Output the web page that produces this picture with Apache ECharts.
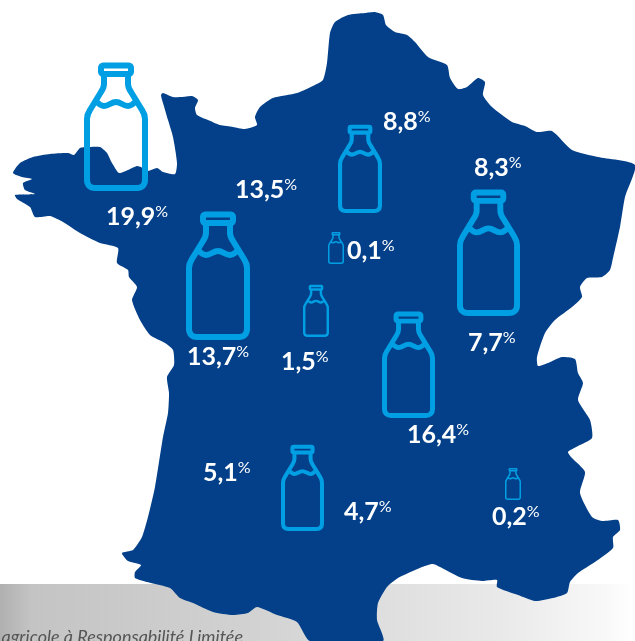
<!DOCTYPE html>
<html>
<head>
<meta charset="utf-8">
<title>Collecte de lait par région</title>
<script src="https://cdn.jsdelivr.net/npm/echarts@6/dist/echarts.min.js"></script>
<style>
html,body{margin:0;padding:0;background:#fff;}
#main{width:635px;height:641px;}
</style>
</head>
<body>
<div id="main"></div>
<script>
// valeurs affichees sur la carte
var shareValues = ['19,9','13,5','8,8','8,3','0,1','13,7','1,5','7,7','16,4','5,1','4,7','0,2'];
// position des valeurs dans le repere de la carte
var shareX = [106,235,383,474,347,187,281,468,407,203,344,492];
var shareY = [217,190,122,168,251,357,362,343,435,473,512,517];

// bouteilles : coin haut gauche et largeur dans le repere de la carte
var bottleX = [84,186,457,382,338,281,303,328,505];
var bottleY = [63,212,190,312,125,445,285,232,468];
var bottleW = [64,64,63,53,44,43,26,16,16];

// contour de la France
var franceOutline = [
[13,173],[20,163],[33,157],[50,154],[68,153],[74,155],[80,148],[87,147],[100,147],[107,153],[112,163],[119,173],[128,170],[137,166],[143,168],[148,171],[157,168],[163,172],[175,174],[177,163],[173,137],[168,120],[163,103],[161,95],[163,93],[173,97],[182,97],[192,96],[198,100],[195,108],[197,115],[208,120],[220,125],[233,127],[245,129],[257,125],[255,117],[260,107],[273,98],[297,93],[315,85],[323,80],[327,63],[330,33],[335,22],[348,15],[365,13],[375,12],[383,15],[386,25],[395,32],[407,35],[415,42],[428,57],[447,65],[450,78],[458,89],[467,87],[478,78],[485,82],[483,95],[492,107],[512,122],[525,126],[537,132],[552,131],[572,150],[598,157],[635,165],[625,197],[620,227],[613,258],[610,270],[602,277],[587,278],[580,287],[582,297],[572,307],[555,320],[545,333],[537,357],[538,366],[548,363],[562,357],[575,359],[578,373],[583,383],[578,400],[590,420],[592,438],[578,446],[568,452],[572,458],[585,472],[580,493],[592,517],[602,521],[618,520],[620,530],[613,537],[613,548],[595,562],[578,573],[570,582],[567,593],[553,598],[535,601],[518,595],[497,587],[497,580],[482,581],[462,578],[442,568],[433,564],[422,567],[398,578],[387,587],[378,603],[377,620],[383,641],[310,641],[297,622],[277,615],[257,607],[248,613],[233,615],[213,612],[193,603],[180,598],[170,588],[147,582],[135,578],[135,572],[141,565],[128,561],[122,553],[133,550],[142,537],[148,517],[155,487],[163,437],[168,413],[169,393],[167,377],[174,365],[173,350],[165,343],[150,335],[140,320],[132,300],[137,287],[129,277],[128,270],[117,263],[118,248],[100,243],[80,233],[63,222],[50,216],[35,217],[30,207],[17,199],[15,195],[35,194],[25,190],[23,183],[32,179],[22,177]
];

var mapColor = '#034089';
var bottleColor = '#009fe3';

// dessin de la bouteille pour une largeur de 64 et une hauteur de 128
var bottlePath = 'M20,11 V21 C20,24 19,26 17,29 L6,47 C4,50 3,53 3,56 V117 C3,122 6,125 11,125 H53 C58,125 61,122 61,117 V56 C61,53 60,50 58,47 L47,29 C45,26 44,24 44,21 V11'
	+ ' M19,2.5 H45 C46,2.5 47,3.5 47,4.5 V9 C47,10 46,11 45,11 H19 C18,11 17,10 17,9 V4.5 C17,3.5 18,2.5 19,2.5 Z'
	+ ' M11,37 C14,40 16,43 20,43 C25,43 27,39 32,39 C37,39 39,43 44,43 C48,43 50,40 53,37';

function indexes(arr){
	var r = [];
	for(var i=0;i<arr.length;i++){ r.push([i]); }
	return r;
}

function renderMap(params,api){
	var pts = [];
	for(var i=0;i<franceOutline.length;i++){
		pts.push(api.coord(franceOutline[i]));
	}
	return {
		type:'polygon',
		shape:{points:pts,smooth:0.2},
		style:{fill:mapColor}
	};
}

function renderBottle(params,api){
	var i = api.value(0);
	var p = api.coord([bottleX[i],bottleY[i]]);
	var scale = bottleW[i]/64;
	return {
		type:'path',
		shape:{
			pathData:bottlePath,
			layout:'cover',
			x:p[0]+3*scale,
			y:p[1]+2.5*scale,
			width:58*scale,
			height:122.5*scale
		},
		style:{fill:null,stroke:bottleColor,lineWidth:Math.max(6*scale,1.4),lineJoin:'round'}
	};
}

function renderShare(params,api){
	var i = api.value(0);
	var p = api.coord([shareX[i],shareY[i]]);
	return {
		type:'text',
		x:p[0],
		y:p[1],
		style:{
			text:'{n|'+shareValues[i]+'}{p|%}',
			verticalAlign:'middle',
			align:'left',
			rich:{
				n:{fontFamily:'Lato',fontWeight:'bold',fontSize:25,fill:'#fff',color:'#fff',lineHeight:26},
				p:{fontFamily:'Lato',fontSize:16,fill:'#fff',color:'#fff',verticalAlign:'top',lineHeight:12}
			}
		}
	};
}

var myChart = echarts.init(document.getElementById('main'));
myChart.setOption({
	animation:false,
	grid:{left:0,right:0,top:0,bottom:0},
	xAxis:{type:'value',min:0,max:635,show:false},
	yAxis:{type:'value',min:0,max:641,inverse:true,show:false},
	graphic:[
		{
			type:'rect',
			z:0,
			shape:{x:0,y:584,width:635,height:57},
			style:{fill:new echarts.graphic.LinearGradient(0,0,1,0,[
				{offset:0,color:'#b0b0b0'},
				{offset:0.05,color:'#c4c4c4'},
				{offset:0.4,color:'#d2d2d2'},
				{offset:0.63,color:'#e0e0e0'},
				{offset:0.8,color:'#eaeaea'},
				{offset:0.95,color:'#f8f8f8'},
				{offset:1,color:'#ffffff'}
			])}
		},
		{
			type:'text',
			z:1,
			x:243,
			y:646,
			style:{
				text:'agricole à Responsabilité Limitée',
				font:'italic 18px Lato',
				fill:'#555555',
				align:'right',
				verticalAlign:'bottom'
			}
		}
	],
	series:[
		{type:'custom',renderItem:renderMap,data:[[0]],silent:true,clip:false,z:2},
		{type:'custom',renderItem:renderBottle,data:indexes(bottleX),silent:true,z:3},
		{type:'custom',renderItem:renderShare,data:indexes(shareValues),silent:true,z:4}
	]
});
</script>
</body>
</html>
